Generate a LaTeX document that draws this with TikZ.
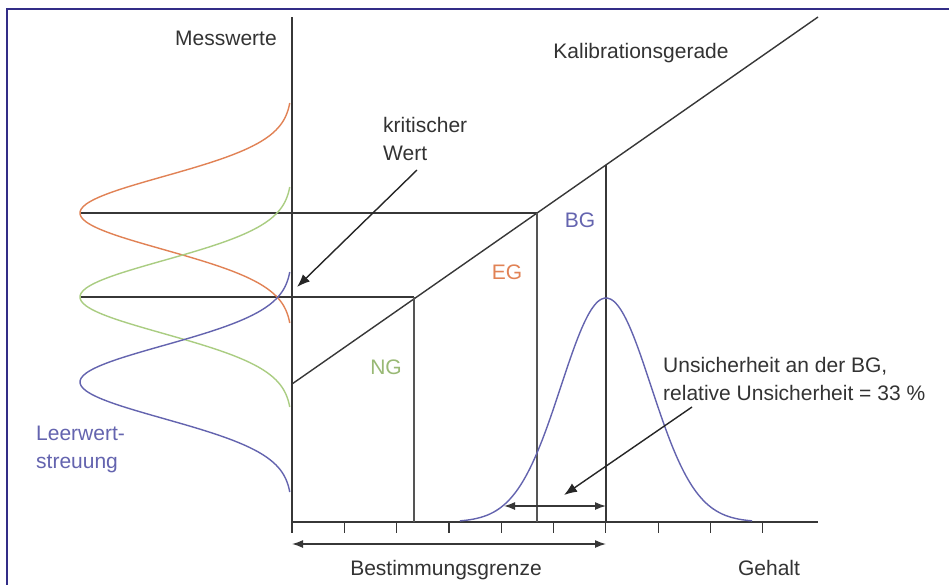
\documentclass[tikz,border=0pt]{standalone}
\usepackage{fontspec}
\setmainfont{Liberation Sans}
\usetikzlibrary{arrows.meta, positioning}
\definecolor{framecol}{RGB}{50,45,135}
\definecolor{blankblue}{RGB}{100,100,175}
\definecolor{nggreen}{RGB}{170,205,130}
\definecolor{egorange}{RGB}{225,130,85}
\definecolor{axisgray}{RGB}{55,55,55}
\tikzstyle{txt} = [inner sep = 0, font = \fontsize{21}{28}\selectfont,
  text = black!80]
\tikzstyle{axisline} = [draw = axisgray, line width = 1.4]
\tikzstyle{thinline} = [draw = axisgray!85, line width = 1.2]
\tikzstyle{bell} = [line width = 1.4]
\tikzstyle{pointer} = [
  draw = black!85, line width = 1.4,
  -{Latex[length = 13pt, width = 10pt]}
]
\tikzstyle{dimarrow} = [
  draw = axisgray, line width = 1.4,
  {Latex[length = 11pt, width = 8pt]}-{Latex[length = 11pt, width = 8pt]}
]

\begin{document}
\begin{tikzpicture}[x = 1pt, y = -1pt]
    \path [use as bounding box, clip] (0, 0) rectangle (949, 584);
    \fill [white] (0, 0) rectangle (949, 584);
    \draw [framecol, line width = 2.2] (7, 9) rectangle (1000, 640);

    % axes and calibration line
    \coordinate (O) at (292, 522);
    \coordinate (y-top) at (292, 17);
    \coordinate (x-end) at (818, 522);
    \coordinate (cal-0) at (292, 384);
    \coordinate (cal-1) at (818, 17);
    \draw [axisline] (O) -- (y-top);
    \draw [axisline] (O) -- (x-end);
    \foreach \i in {0, ..., 9}
      \draw [axisline, line width = 1.2] ({292 + \i * 52.3}, 522) -- ++(0, 11);
    \draw [axisline] (cal-0) -- (cal-1);

    \coordinate (ng) at (414, 297);
    \coordinate (eg) at (537, 213);
    \coordinate (bg) at (606, 165);
    \coordinate (ng-peak) at (80, 297);
    \coordinate (eg-peak) at (80, 213);
    \draw [axisline] (ng-peak) -- (ng);
    \draw [axisline] (eg-peak) -- (eg);
    \draw [thinline] (ng) -- (ng |- O);
    \draw [thinline] (eg) -- (eg |- O);
    \draw [axisline, line width = 2.6] (bg) -- (bg |- O);

    % distributions (\x in tens of units)
    \draw [bell, egorange] plot [domain = -11:11, samples = 90, smooth]
      ({292 - 212 * exp(-(\x * \x) / 26.64)}, {213 + 10 * \x});
    \draw [bell, nggreen] plot [domain = -11:11, samples = 90, smooth]
      ({292 - 212 * exp(-(\x * \x) / 26.64)}, {297 + 10 * \x});
    \draw [bell, blankblue] plot [domain = -11:11, samples = 90, smooth]
      ({292 - 212 * exp(-(\x * \x) / 26.64)}, {382 + 10 * \x});
    \draw [bell, blankblue] plot [domain = -14.6:14.6, samples = 90, smooth]
      ({606 + 10 * \x}, {522 - 224 * exp(-(\x * \x) / 40.5)});

    % labels
    \node [txt] (messwerte) at (226, 38) {Messwerte};
    \node [txt] (kalib) at (641, 53) {Kalibrationsgerade};
    \node [txt, align = left, anchor = west] (krit) at (383, 139)
      {kritischer\\Wert};
    \node [txt, text = blankblue] (bg-label) at (580, 220) {BG};
    \node [txt, text = egorange] (eg-label) at (507, 272) {EG};
    \node [txt, text = nggreen!90!black] (ng-label) at (386, 367) {NG};
    \node [txt, align = left, anchor = west] (unsicher) at (663, 379)
      {Unsicherheit an der BG,\\relative Unsicherheit = 33 \%};
    \node [txt, align = left, anchor = west, text = blankblue] (leerwert)
      at (36, 449) {Leerwert-\\streuung};
    \node [txt] (bestimmung) at (446, 570) {Bestimmungsgrenze};
    \node [txt] (gehalt) at (769, 568) {Gehalt};

    % arrows
    \coordinate (krit-tail) at (417, 170);
    \coordinate (krit-tip) at (297, 287);
    \coordinate (unsicher-tail) at (692, 407);
    \coordinate (unsicher-tip) at (564, 495);
    \draw [pointer] (krit-tail) -- (krit-tip);
    \draw [pointer] (unsicher-tail) -- (unsicher-tip);
    \coordinate (spread-l) at (504, 506);
    \coordinate (spread-r) at (606, 506);
    \coordinate (bgr-l) at (292, 544);
    \coordinate (bgr-r) at (606, 544);
    \draw [dimarrow] (spread-l) -- (spread-r);
    \draw [dimarrow] (bgr-l) -- (bgr-r);
  \end{tikzpicture}
\end{document}
